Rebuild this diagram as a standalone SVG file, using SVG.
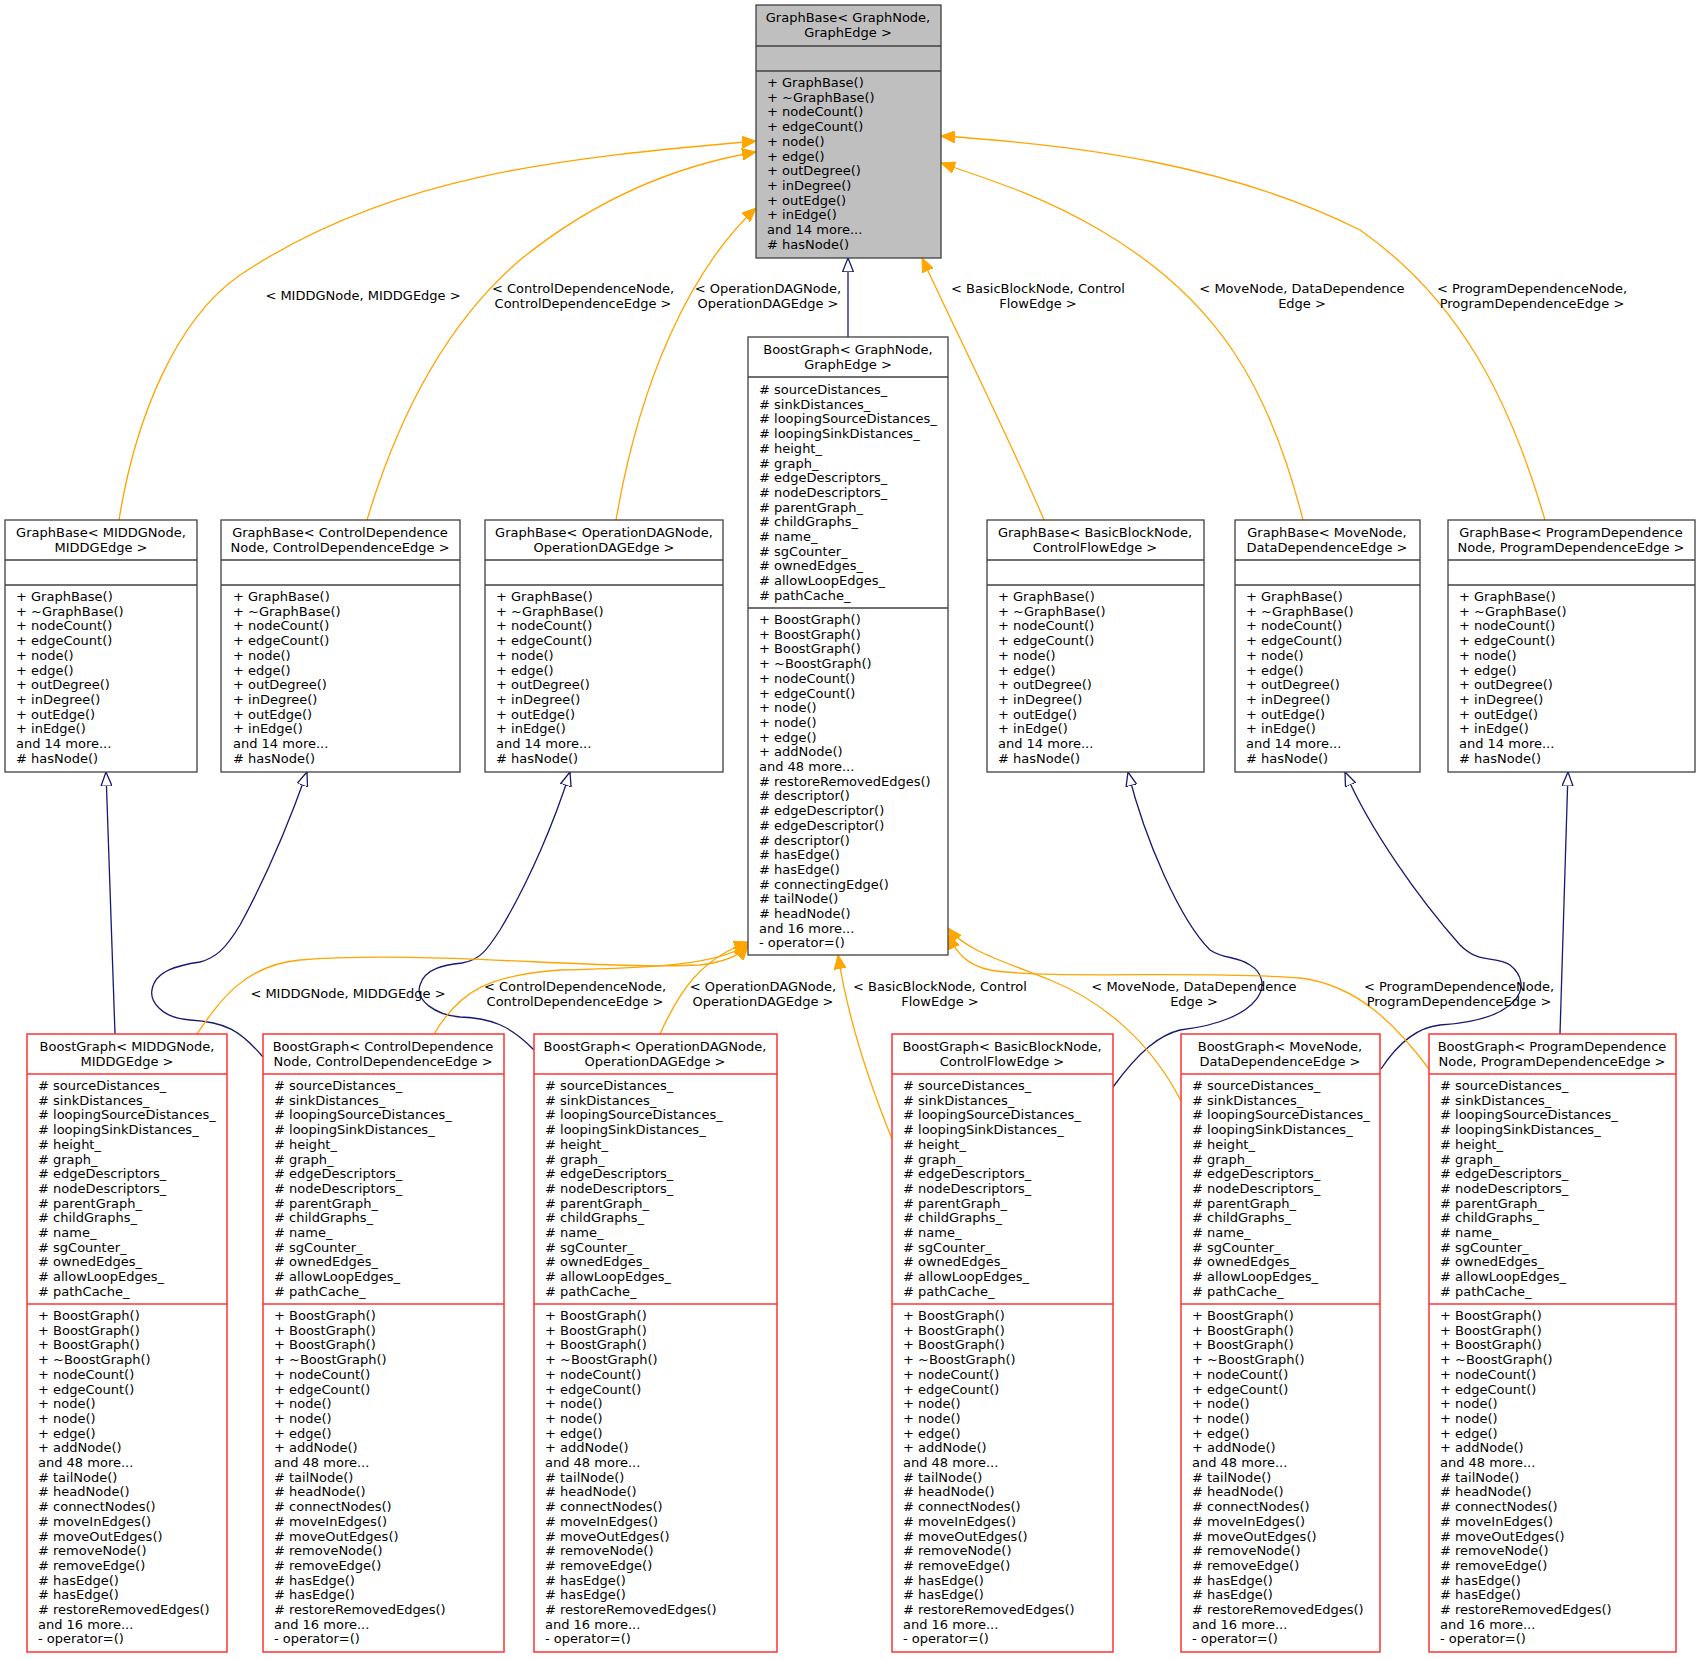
<svg xmlns="http://www.w3.org/2000/svg" width="1701" height="1659" viewBox="0 0 1701 1659">
<style>
text{font-family:"DejaVu Sans","Liberation Sans",sans-serif;font-size:13px;fill:#000}
.c{text-anchor:middle}
.box{fill:#fff;stroke:#404040;stroke-width:1.3}
.top{fill:#bfbfbf;stroke:#404040;stroke-width:1.3}
.red{fill:#fff;stroke:#ff3333;stroke-width:1.5}
.sep{stroke:#404040;stroke-width:1.3}
.rsep{stroke:#ff3333;stroke-width:1.5}
.o{fill:none;stroke:#ffa500;stroke-width:1.3}
.n{fill:none;stroke:#191970;stroke-width:1.3}
</style>
<defs>
<marker id="ao" markerUnits="userSpaceOnUse" markerWidth="16" markerHeight="12" refX="14" refY="6" orient="auto"><path d="M0,0 L14,6 L0,12 Z" fill="#ffa500" stroke="#ffa500"/></marker>
<marker id="an" markerUnits="userSpaceOnUse" markerWidth="16" markerHeight="12" refX="14" refY="6" orient="auto"><path d="M0,0.5 L14,6 L0,11.5 Z" fill="#fff" stroke="#191970" stroke-width="1.3"/></marker>
</defs>
<rect width="1701" height="1659" fill="#fff"/>

<g id="connectors">
<path class="o" marker-end="url(#ao)" d="M119,520 C135,420 175,320 240,275 C390,175 560,158 756,141"/>
<path class="o" marker-end="url(#ao)" d="M367,520 C400,410 450,320 520,260 C600,195 680,165 756,152"/>
<path class="o" marker-end="url(#ao)" d="M616,520 C640,380 690,270 756,208"/>
<path class="o" marker-end="url(#ao)" d="M1044,520 C1010,440 960,340 922,258"/>
<path class="o" marker-end="url(#ao)" d="M1303,520 C1270,390 1220,300 1100,230 C1040,195 990,180 941,163"/>
<path class="o" marker-end="url(#ao)" d="M1545,520 C1510,400 1460,300 1360,230 C1230,165 1080,145 941,136"/>
<path class="n" marker-end="url(#an)" d="M848,337 L848,258"/>
<path class="n" marker-end="url(#an)" d="M115,1034 L106,772"/>
<path class="n" marker-end="url(#an)" d="M263,1057 C240,1030 225,1022 190,1020 C160,1018 150,1000 152,990 C155,970 180,965 200,962 C215,958 225,950 240,925 C270,870 290,820 307,772"/>
<path class="n" marker-end="url(#an)" d="M534,1050 C510,1025 490,1018 460,1017 C435,1015 415,1000 420,985 C425,968 445,965 462,963 C480,960 487,950 500,930 C530,880 555,820 570,772"/>
<path class="n" marker-end="url(#an)" d="M1113,1087 C1140,1050 1160,1035 1180,1030 C1265,1020 1275,980 1250,965 C1235,955 1225,960 1210,950 C1180,920 1145,840 1128,772"/>
<path class="n" marker-end="url(#an)" d="M1381,1069 C1400,1040 1420,1027 1440,1025 C1520,1020 1535,985 1510,965 C1495,955 1480,965 1460,945 C1420,900 1370,830 1345,772"/>
<path class="n" marker-end="url(#an)" d="M1560,1034 L1568,772"/>
<path class="o" marker-end="url(#ao)" d="M197,1034 C220,1000 245,965 300,960 C420,950 600,970 700,965 C725,962 740,955 748,946"/>
<path class="o" marker-end="url(#ao)" d="M434,1034 C460,990 490,975 560,970 C650,968 720,965 748,944"/>
<path class="o" marker-end="url(#ao)" d="M660,1034 C680,990 700,960 748,942"/>
<path class="o" marker-end="url(#ao)" d="M892,1139 C860,1060 845,1000 838,955"/>
<path class="o" marker-end="url(#ao)" d="M1181,1101 C1150,1040 1100,1000 1050,980 C1000,960 965,950 948,928"/>
<path class="o" marker-end="url(#ao)" d="M1429,1069 C1400,1030 1360,985 1300,978 C1200,970 1050,980 990,970 C965,965 955,950 948,935"/>
<text class="c" x="363" y="300">&lt; MIDDGNode, MIDDGEdge &gt;</text>
<text class="c" x="583" y="293">&lt; ControlDependenceNode,<tspan x="583" dy="15">ControlDependenceEdge &gt;</tspan></text>
<text class="c" x="768" y="293">&lt; OperationDAGNode,<tspan x="768" dy="15">OperationDAGEdge &gt;</tspan></text>
<text class="c" x="1038" y="293">&lt; BasicBlockNode, Control<tspan x="1038" dy="15">FlowEdge &gt;</tspan></text>
<text class="c" x="1302" y="293">&lt; MoveNode, DataDependence<tspan x="1302" dy="15">Edge &gt;</tspan></text>
<text class="c" x="1532" y="293">&lt; ProgramDependenceNode,<tspan x="1532" dy="15">ProgramDependenceEdge &gt;</tspan></text>
<text class="c" x="348" y="998">&lt; MIDDGNode, MIDDGEdge &gt;</text>
<text class="c" x="575" y="991">&lt; ControlDependenceNode,<tspan x="575" dy="15">ControlDependenceEdge &gt;</tspan></text>
<text class="c" x="763" y="991">&lt; OperationDAGNode,<tspan x="763" dy="15">OperationDAGEdge &gt;</tspan></text>
<text class="c" x="940" y="991">&lt; BasicBlockNode, Control<tspan x="940" dy="15">FlowEdge &gt;</tspan></text>
<text class="c" x="1194" y="991">&lt; MoveNode, DataDependence<tspan x="1194" dy="15">Edge &gt;</tspan></text>
<text class="c" x="1459" y="991">&lt; ProgramDependenceNode,<tspan x="1459" dy="15">ProgramDependenceEdge &gt;</tspan></text>
</g>

<g id="graphbase_root">
<rect class="top" x="756" y="5" width="185" height="253"/>
<line class="sep" x1="756" y1="46" x2="941" y2="46"/><line class="sep" x1="756" y1="71" x2="941" y2="71"/>
<text class="c" x="848" y="22">GraphBase&lt; GraphNode,<tspan x="848" dy="15">GraphEdge &gt;</tspan></text>
<text x="767" y="87">+ GraphBase()<tspan x="767" dy="14.7">+ ~GraphBase()</tspan><tspan x="767" dy="14.7">+ nodeCount()</tspan><tspan x="767" dy="14.7">+ edgeCount()</tspan><tspan x="767" dy="14.7">+ node()</tspan><tspan x="767" dy="14.7">+ edge()</tspan><tspan x="767" dy="14.7">+ outDegree()</tspan><tspan x="767" dy="14.7">+ inDegree()</tspan><tspan x="767" dy="14.7">+ outEdge()</tspan><tspan x="767" dy="14.7">+ inEdge()</tspan><tspan x="767" dy="14.7">and 14 more...</tspan><tspan x="767" dy="14.7"># hasNode()</tspan></text>
</g>

<g id="boostgraph_main">
<rect class="box" x="748" y="337" width="200" height="618"/>
<line class="sep" x1="748" y1="377" x2="948" y2="377"/><line class="sep" x1="748" y1="608" x2="948" y2="608"/>
<text class="c" x="848" y="354">BoostGraph&lt; GraphNode,<tspan x="848" dy="15">GraphEdge &gt;</tspan></text>
<text x="759" y="394"># sourceDistances_<tspan x="759" dy="14.7"># sinkDistances_</tspan><tspan x="759" dy="14.7"># loopingSourceDistances_</tspan><tspan x="759" dy="14.7"># loopingSinkDistances_</tspan><tspan x="759" dy="14.7"># height_</tspan><tspan x="759" dy="14.7"># graph_</tspan><tspan x="759" dy="14.7"># edgeDescriptors_</tspan><tspan x="759" dy="14.7"># nodeDescriptors_</tspan><tspan x="759" dy="14.7"># parentGraph_</tspan><tspan x="759" dy="14.7"># childGraphs_</tspan><tspan x="759" dy="14.7"># name_</tspan><tspan x="759" dy="14.7"># sgCounter_</tspan><tspan x="759" dy="14.7"># ownedEdges_</tspan><tspan x="759" dy="14.7"># allowLoopEdges_</tspan><tspan x="759" dy="14.7"># pathCache_</tspan></text>
<text x="759" y="624">+ BoostGraph()<tspan x="759" dy="14.7">+ BoostGraph()</tspan><tspan x="759" dy="14.7">+ BoostGraph()</tspan><tspan x="759" dy="14.7">+ ~BoostGraph()</tspan><tspan x="759" dy="14.7">+ nodeCount()</tspan><tspan x="759" dy="14.7">+ edgeCount()</tspan><tspan x="759" dy="14.7">+ node()</tspan><tspan x="759" dy="14.7">+ node()</tspan><tspan x="759" dy="14.7">+ edge()</tspan><tspan x="759" dy="14.7">+ addNode()</tspan><tspan x="759" dy="14.7">and 48 more...</tspan><tspan x="759" dy="14.7"># restoreRemovedEdges()</tspan><tspan x="759" dy="14.7"># descriptor()</tspan><tspan x="759" dy="14.7"># edgeDescriptor()</tspan><tspan x="759" dy="14.7"># edgeDescriptor()</tspan><tspan x="759" dy="14.7"># descriptor()</tspan><tspan x="759" dy="14.7"># hasEdge()</tspan><tspan x="759" dy="14.7"># hasEdge()</tspan><tspan x="759" dy="14.7"># connectingEdge()</tspan><tspan x="759" dy="14.7"># tailNode()</tspan><tspan x="759" dy="14.7"># headNode()</tspan><tspan x="759" dy="14.7">and 16 more...</tspan><tspan x="759" dy="14.7">- operator=()</tspan></text>
</g>

<defs>
<text id="gbm" x="0" y="601">+ GraphBase()<tspan x="0" dy="14.7">+ ~GraphBase()</tspan><tspan x="0" dy="14.7">+ nodeCount()</tspan><tspan x="0" dy="14.7">+ edgeCount()</tspan><tspan x="0" dy="14.7">+ node()</tspan><tspan x="0" dy="14.7">+ edge()</tspan><tspan x="0" dy="14.7">+ outDegree()</tspan><tspan x="0" dy="14.7">+ inDegree()</tspan><tspan x="0" dy="14.7">+ outEdge()</tspan><tspan x="0" dy="14.7">+ inEdge()</tspan><tspan x="0" dy="14.7">and 14 more...</tspan><tspan x="0" dy="14.7"># hasNode()</tspan></text>
<text id="bga" x="0" y="1090"># sourceDistances_<tspan x="0" dy="14.7"># sinkDistances_</tspan><tspan x="0" dy="14.7"># loopingSourceDistances_</tspan><tspan x="0" dy="14.7"># loopingSinkDistances_</tspan><tspan x="0" dy="14.7"># height_</tspan><tspan x="0" dy="14.7"># graph_</tspan><tspan x="0" dy="14.7"># edgeDescriptors_</tspan><tspan x="0" dy="14.7"># nodeDescriptors_</tspan><tspan x="0" dy="14.7"># parentGraph_</tspan><tspan x="0" dy="14.7"># childGraphs_</tspan><tspan x="0" dy="14.7"># name_</tspan><tspan x="0" dy="14.7"># sgCounter_</tspan><tspan x="0" dy="14.7"># ownedEdges_</tspan><tspan x="0" dy="14.7"># allowLoopEdges_</tspan><tspan x="0" dy="14.7"># pathCache_</tspan></text>
<text id="bgm" x="0" y="1320">+ BoostGraph()<tspan x="0" dy="14.7">+ BoostGraph()</tspan><tspan x="0" dy="14.7">+ BoostGraph()</tspan><tspan x="0" dy="14.7">+ ~BoostGraph()</tspan><tspan x="0" dy="14.7">+ nodeCount()</tspan><tspan x="0" dy="14.7">+ edgeCount()</tspan><tspan x="0" dy="14.7">+ node()</tspan><tspan x="0" dy="14.7">+ node()</tspan><tspan x="0" dy="14.7">+ edge()</tspan><tspan x="0" dy="14.7">+ addNode()</tspan><tspan x="0" dy="14.7">and 48 more...</tspan><tspan x="0" dy="14.7"># tailNode()</tspan><tspan x="0" dy="14.7"># headNode()</tspan><tspan x="0" dy="14.7"># connectNodes()</tspan><tspan x="0" dy="14.7"># moveInEdges()</tspan><tspan x="0" dy="14.7"># moveOutEdges()</tspan><tspan x="0" dy="14.7"># removeNode()</tspan><tspan x="0" dy="14.7"># removeEdge()</tspan><tspan x="0" dy="14.7"># hasEdge()</tspan><tspan x="0" dy="14.7"># hasEdge()</tspan><tspan x="0" dy="14.7"># restoreRemovedEdges()</tspan><tspan x="0" dy="14.7">and 16 more...</tspan><tspan x="0" dy="14.7">- operator=()</tspan></text>
</defs>

<g id="gb_middg"><rect class="box" x="5" y="520" width="192" height="252"/><line class="sep" x1="5" y1="560" x2="197" y2="560"/><line class="sep" x1="5" y1="585" x2="197" y2="585"/>
<text class="c" x="101" y="537">GraphBase&lt; MIDDGNode,<tspan x="101" dy="15">MIDDGEdge &gt;</tspan></text><use href="#gbm" x="16"/></g>
<g id="gb_cd"><rect class="box" x="221" y="520" width="239" height="252"/><line class="sep" x1="221" y1="560" x2="460" y2="560"/><line class="sep" x1="221" y1="585" x2="460" y2="585"/>
<text class="c" x="340" y="537">GraphBase&lt; ControlDependence<tspan x="340" dy="15">Node, ControlDependenceEdge &gt;</tspan></text><use href="#gbm" x="233"/></g>
<g id="gb_opdag"><rect class="box" x="485" y="520" width="238" height="252"/><line class="sep" x1="485" y1="560" x2="723" y2="560"/><line class="sep" x1="485" y1="585" x2="723" y2="585"/>
<text class="c" x="604" y="537">GraphBase&lt; OperationDAGNode,<tspan x="604" dy="15">OperationDAGEdge &gt;</tspan></text><use href="#gbm" x="496"/></g>
<g id="gb_bb"><rect class="box" x="987" y="520" width="217" height="252"/><line class="sep" x1="987" y1="560" x2="1204" y2="560"/><line class="sep" x1="987" y1="585" x2="1204" y2="585"/>
<text class="c" x="1095" y="537">GraphBase&lt; BasicBlockNode,<tspan x="1095" dy="15">ControlFlowEdge &gt;</tspan></text><use href="#gbm" x="998"/></g>
<g id="gb_move"><rect class="box" x="1235" y="520" width="185" height="252"/><line class="sep" x1="1235" y1="560" x2="1420" y2="560"/><line class="sep" x1="1235" y1="585" x2="1420" y2="585"/>
<text class="c" x="1327" y="537">GraphBase&lt; MoveNode,<tspan x="1327" dy="15">DataDependenceEdge &gt;</tspan></text><use href="#gbm" x="1246"/></g>
<g id="gb_pd"><rect class="box" x="1448" y="520" width="247" height="252"/><line class="sep" x1="1448" y1="560" x2="1695" y2="560"/><line class="sep" x1="1448" y1="585" x2="1695" y2="585"/>
<text class="c" x="1571" y="537">GraphBase&lt; ProgramDependence<tspan x="1571" dy="15">Node, ProgramDependenceEdge &gt;</tspan></text><use href="#gbm" x="1459"/></g>

<g id="bg_middg"><rect class="red" x="27" y="1034" width="200" height="618"/><line class="rsep" x1="27" y1="1074" x2="227" y2="1074"/><line class="rsep" x1="27" y1="1304" x2="227" y2="1304"/>
<text class="c" x="127" y="1051">BoostGraph&lt; MIDDGNode,<tspan x="127" dy="15">MIDDGEdge &gt;</tspan></text><use href="#bga" x="38"/><use href="#bgm" x="38"/></g>
<g id="bg_cd"><rect class="red" x="263" y="1034" width="241" height="618"/><line class="rsep" x1="263" y1="1074" x2="504" y2="1074"/><line class="rsep" x1="263" y1="1304" x2="504" y2="1304"/>
<text class="c" x="383" y="1051">BoostGraph&lt; ControlDependence<tspan x="383" dy="15">Node, ControlDependenceEdge &gt;</tspan></text><use href="#bga" x="274"/><use href="#bgm" x="274"/></g>
<g id="bg_opdag"><rect class="red" x="534" y="1034" width="243" height="618"/><line class="rsep" x1="534" y1="1074" x2="777" y2="1074"/><line class="rsep" x1="534" y1="1304" x2="777" y2="1304"/>
<text class="c" x="655" y="1051">BoostGraph&lt; OperationDAGNode,<tspan x="655" dy="15">OperationDAGEdge &gt;</tspan></text><use href="#bga" x="545"/><use href="#bgm" x="545"/></g>
<g id="bg_bb"><rect class="red" x="892" y="1034" width="221" height="618"/><line class="rsep" x1="892" y1="1074" x2="1113" y2="1074"/><line class="rsep" x1="892" y1="1304" x2="1113" y2="1304"/>
<text class="c" x="1002" y="1051">BoostGraph&lt; BasicBlockNode,<tspan x="1002" dy="15">ControlFlowEdge &gt;</tspan></text><use href="#bga" x="903"/><use href="#bgm" x="903"/></g>
<g id="bg_move"><rect class="red" x="1181" y="1034" width="199" height="618"/><line class="rsep" x1="1181" y1="1074" x2="1380" y2="1074"/><line class="rsep" x1="1181" y1="1304" x2="1380" y2="1304"/>
<text class="c" x="1280" y="1051">BoostGraph&lt; MoveNode,<tspan x="1280" dy="15">DataDependenceEdge &gt;</tspan></text><use href="#bga" x="1192"/><use href="#bgm" x="1192"/></g>
<g id="bg_pd"><rect class="red" x="1429" y="1034" width="247" height="618"/><line class="rsep" x1="1429" y1="1074" x2="1676" y2="1074"/><line class="rsep" x1="1429" y1="1304" x2="1676" y2="1304"/>
<text class="c" x="1552" y="1051">BoostGraph&lt; ProgramDependence<tspan x="1552" dy="15">Node, ProgramDependenceEdge &gt;</tspan></text><use href="#bga" x="1440"/><use href="#bgm" x="1440"/></g>
</svg>
